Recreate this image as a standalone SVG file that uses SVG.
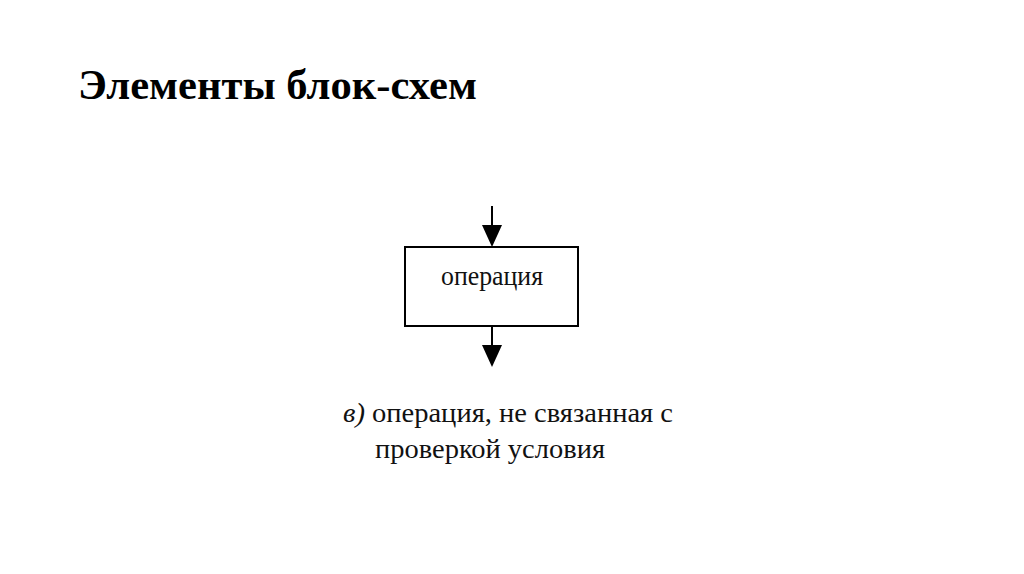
<svg xmlns="http://www.w3.org/2000/svg" width="1024" height="574" viewBox="0 0 1024 574">
<style>
.title{font-family:"Liberation Serif","Times New Roman",serif;font-weight:bold;font-size:42px;fill:#000}
.lbl{font-family:"Liberation Serif","Times New Roman",serif;font-size:27px;fill:#111}
.box{fill:#fff;stroke:#000;stroke-width:2}
.line{stroke:#000;stroke-width:2;fill:none}
.head{fill:#000}
</style>
<rect width="1024" height="574" fill="#fff"/>
<text id="title" class="title" x="78" y="99" textLength="399" lengthAdjust="spacingAndGlyphs">Элементы блок-схем</text>
<g id="connectors">
<line class="line" x1="492" y1="206" x2="492" y2="230"/>
<polygon class="head" points="482,225 502,225 492,247"/>
<line class="line" x1="492" y1="326" x2="492" y2="350"/>
<polygon class="head" points="482,345 502,345 492,367"/>
</g>
<g id="node-operation">
<rect class="box" x="405" y="247" width="173" height="79"/>
<text class="lbl" x="441" y="285" textLength="102" lengthAdjust="spacingAndGlyphs">операция</text>
</g>
<g id="caption">
<text class="lbl" x="343" y="422" textLength="330" lengthAdjust="spacingAndGlyphs"><tspan font-style="italic">в)</tspan> операция, не связанная с</text>
<text class="lbl" x="375" y="458" textLength="230" lengthAdjust="spacingAndGlyphs">проверкой условия</text>
</g>
</svg>
